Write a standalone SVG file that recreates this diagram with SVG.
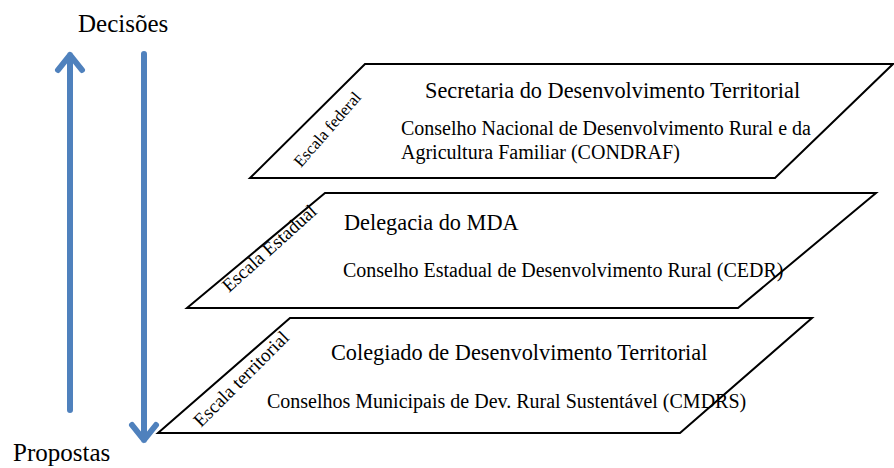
<svg xmlns="http://www.w3.org/2000/svg" width="894" height="468" viewBox="0 0 894 468">
<defs>
<style>
.plane{fill:#ffffff;stroke:#000000;stroke-width:2;stroke-linejoin:miter}
.t{font-family:"Liberation Serif","Times New Roman",serif;fill:#000000}
.h{font-size:22.3px}
.b{font-size:20px}
.s{font-size:19px}
.sf{font-size:16.5px}
.big{font-size:25px}
.arrow{fill:none;stroke:#4F81BD;stroke-width:6;stroke-linecap:round;stroke-linejoin:round}
</style>
</defs>
<rect width="894" height="468" fill="#ffffff"/>
<g id="federal">
<polygon class="plane" points="365,64 893,64 775,178 250,178"/>
<text class="t sf" transform="translate(301,168) rotate(-49)">Escala federal</text>
<text class="t h" x="425" y="98">Secretaria do Desenvolvimento Territorial</text>
<text class="t b" x="401" y="135">Conselho Nacional de Desenvolvimento Rural e da</text>
<text class="t b" x="401" y="159">Agricultura Familiar (CONDRAF)</text>
</g>
<g id="estadual">
<polygon class="plane" points="325,193 876,193 738,308 187,308"/>
<text class="t s" transform="translate(229,293) rotate(-42)">Escala Estadual</text>
<text class="t h" x="344" y="230">Delegacia do MDA</text>
<text class="t b" x="343" y="277">Conselho Estadual de Desenvolvimento Rural (CEDR)</text>
</g>
<g id="territorial">
<polygon class="plane" points="290,318 812,318 680,433 158,433"/>
<text class="t s" transform="translate(201,428) rotate(-45)">Escala territorial</text>
<text class="t h" x="331" y="360">Colegiado de Desenvolvimento Territorial</text>
<text class="t b" x="267" y="408">Conselhos Municipais de Dev. Rural Sustentável (CMDRS)</text>
</g>
<g id="connectors">
<path class="arrow" d="M70,410 L70,55 M58,70 L70,55 L82,70"/>
<path class="arrow" d="M144,54 L144,440 M132,425 L144,440 L156,425"/>
</g>
<text id="decisoes" class="t big" x="78" y="32">Decisões</text>
<text id="propostas" class="t big" x="13" y="461">Propostas</text>
</svg>
